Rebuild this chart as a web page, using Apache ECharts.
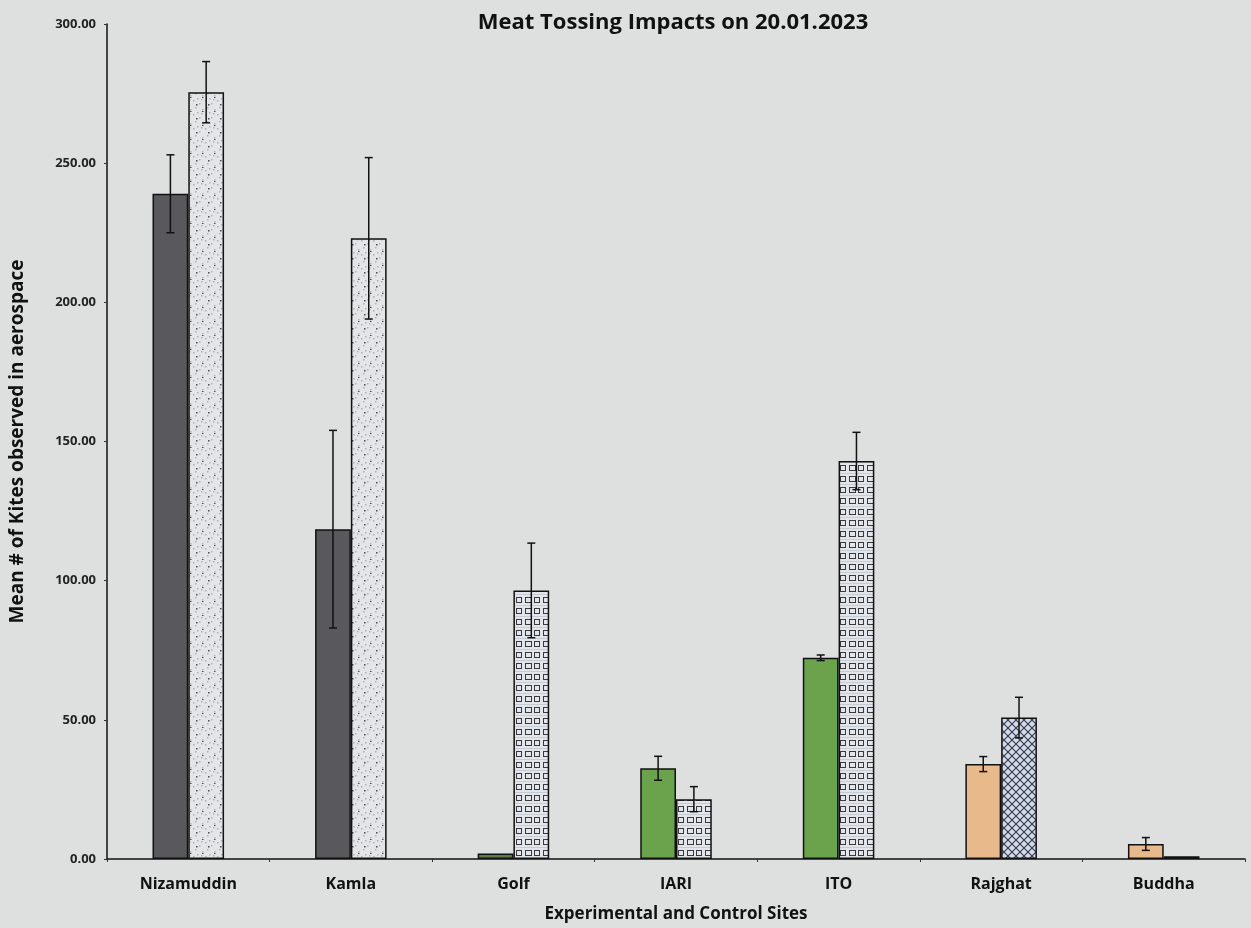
<!DOCTYPE html>
<html>
<head>
<meta charset="utf-8">
<script src="https://cdn.jsdelivr.net/npm/echarts@6/dist/echarts.min.js"></script>
<style>
  html, body { margin: 0; padding: 0; background: #dde0de; overflow: hidden; }
  #chart { width: 1251px; height: 928px; }
</style>
</head>
<body>
<div id="chart"></div>
<script>
// Sites along the x axis
const categories = ['Nizamuddin', 'Kamla', 'Golf', 'IARI', 'ITO', 'Rajghat', 'Buddha'];
// First bar of each pair (meat tossing sites) – mean and error
const meatMeans = [239, 118.5, 2, 32.6, 72.3, 34.1, 5.4];
const meatErr   = [14, 35.5, 0, 4.3, 1, 2.7, 2.3];
// Second bar of each pair (control) – mean and error
const controlMeans = [275.5, 223, 96.5, 21.5, 143, 50.8, 1];
const controlErr   = [11, 29, 17, 4.5, 10.3, 7.3, 0];
// Y axis ticks
const yTicks = [0, 50, 100, 150, 200, 250, 300];

const FONT = '"Open Sans", "Noto Sans", sans-serif';

function canvasPattern(w, h, draw) {
  const c = document.createElement('canvas');
  c.width = w; c.height = h;
  const ctx = c.getContext('2d');
  draw(ctx, w, h);
  return { image: c, repeat: 'repeat' };
}

// Fine stipple fill
const dotsFill = canvasPattern(12, 14, (ctx, w, h) => {
  ctx.fillStyle = '#e4e5e7'; ctx.fillRect(0, 0, w, h);
  ctx.fillStyle = '#b0b2b6';
  [[1,2],[7,5],[3,9],[10,11],[5,0],[9,1]].forEach(p => ctx.fillRect(p[0], p[1], 1.5, 1.5));
  ctx.fillStyle = '#4a4a4e';
  [[4,6],[10,13]].forEach(p => ctx.fillRect(p[0], p[1], 1.5, 1.5));
});

// Small open squares on a faint grid
const squaresFill = canvasPattern(18, 11, (ctx, w, h) => {
  ctx.fillStyle = '#e2e5ea'; ctx.fillRect(0, 0, w, h);
  ctx.strokeStyle = '#c6ccd6'; ctx.lineWidth = 1;
  ctx.beginPath(); ctx.moveTo(0, 0.5); ctx.lineTo(w, 0.5); ctx.stroke();
  ctx.strokeStyle = '#3a3a3e'; ctx.lineWidth = 1;
  ctx.strokeRect(3.5, 3.5, 6, 5);
  ctx.strokeRect(12.5, 3.5, 5, 5);
});

// Diagonal cross-hatch
const hatchFill = canvasPattern(8, 8, (ctx, w, h) => {
  ctx.fillStyle = '#d6dae4'; ctx.fillRect(0, 0, w, h);
  ctx.strokeStyle = '#2e3852'; ctx.lineWidth = 1.1;
  ctx.beginPath();
  ctx.moveTo(0, 0); ctx.lineTo(8, 8);
  ctx.moveTo(8, 0); ctx.lineTo(0, 8);
  ctx.stroke();
});

const meatColors = ['#59585c', '#59585c', '#5e7a48', '#6ba34c', '#6ba34c', '#e8b98a', '#e8b98a'];
const controlFills = [dotsFill, dotsFill, squaresFill, squaresFill, squaresFill, hatchFill, squaresFill];

const BAR_FRAC = 0.22;

function barItems(vals, fills) {
  return vals.map((v, i) => ({
    value: v,
    itemStyle: { color: fills[i], borderColor: '#111', borderWidth: 1.5 }
  }));
}

function errItems(vals, errs, side) {
  return vals.map((v, i) => [i, v, errs[i], side]);
}

function renderError(params, api) {
  const err = api.value(2);
  if (!err) return null;
  const idx = api.value(0);
  const mean = api.value(1);
  const side = api.value(3);
  const band = api.size([1, 0])[0];
  const off = (side === 0 ? -0.5 : 0.5) * band * BAR_FRAC;
  const top = api.coord([idx, mean + err]);
  const bot = api.coord([idx, mean - err]);
  const x = top[0] + off;
  const cap = 4;
  const style = { stroke: '#111', lineWidth: 1.5 };
  return {
    type: 'group',
    children: [
      { type: 'line', shape: { x1: x, y1: top[1], x2: x, y2: bot[1] }, style },
      { type: 'line', shape: { x1: x - cap, y1: top[1], x2: x + cap, y2: top[1] }, style },
      { type: 'line', shape: { x1: x - cap, y1: bot[1], x2: x + cap, y2: bot[1] }, style }
    ]
  };
}

const chart = echarts.init(document.getElementById('chart'), null, { renderer: 'canvas' });

chart.setOption({
  backgroundColor: '#dde0de',
  animation: false,
  title: {
    text: 'Meat Tossing Impacts on 20.01.2023',
    left: 668, top: 7, textAlign: 'center',
    textStyle: { fontFamily: FONT, fontWeight: 'bold', fontSize: 22, color: '#111' }
  },
  grid: { left: 101, right: 6, top: 24, bottom: 67, containLabel: false },
  xAxis: {
    type: 'category',
    data: categories,
    name: 'Experimental and Control Sites',
    nameLocation: 'middle',
    nameGap: 47,
    nameTextStyle: { fontFamily: FONT, fontWeight: 'bold', fontSize: 17, color: '#111' },
    axisLine: { lineStyle: { color: '#111', width: 1.5 } },
    axisTick: { show: true, length: 3, lineStyle: { color: '#333' } },
    axisLabel: { fontFamily: FONT, fontWeight: 'bold', fontSize: 16, color: '#111', margin: 17 }
  },
  yAxis: {
    type: 'value',
    min: 0, max: 300, interval: 50,
    name: 'Mean # of Kites observed in aerospace',
    nameLocation: 'middle',
    nameGap: 80,
    nameTextStyle: { fontFamily: FONT, fontWeight: 'bold', fontSize: 19, color: '#111' },
    axisLine: { show: true, lineStyle: { color: '#111', width: 1.5 } },
    axisTick: { show: true, length: 3, lineStyle: { color: '#333' } },
    splitLine: { show: false },
    axisLabel: {
      fontFamily: FONT, fontWeight: 'bold', fontSize: 13, color: '#222', margin: 11,
      formatter: v => yTicks.includes(v) ? v.toFixed(2) : ''
    }
  },
  series: [
    {
      name: 'Meat tossing',
      type: 'bar',
      data: barItems(meatMeans, meatColors),
      barWidth: (BAR_FRAC * 100) + '%',
      barGap: '0%'
    },
    {
      name: 'Control',
      type: 'bar',
      data: barItems(controlMeans, controlFills),
      barWidth: (BAR_FRAC * 100) + '%',
      barGap: '0%'
    },
    {
      type: 'custom',
      renderItem: renderError,
      data: errItems(meatMeans, meatErr, 0),
      z: 10
    },
    {
      type: 'custom',
      renderItem: renderError,
      data: errItems(controlMeans, controlErr, 1),
      z: 10
    }
  ]
});
</script>
</body>
</html>
